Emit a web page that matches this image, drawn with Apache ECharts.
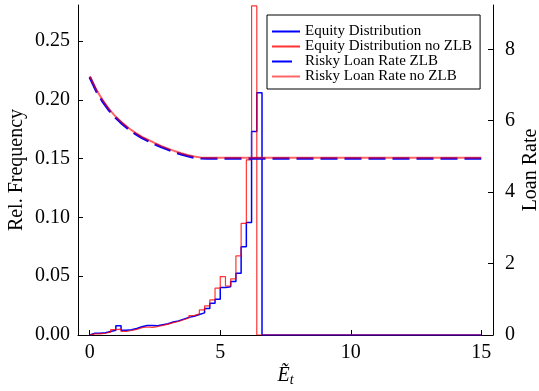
<!DOCTYPE html>
<html>
<head>
<meta charset="utf-8">
<script src="https://cdn.jsdelivr.net/npm/echarts@6/dist/echarts.min.js"></script>
<style>
  html, body { margin: 0; padding: 0; background: #ffffff; }
  #chart { width: 539px; height: 391px; }
</style>
</head>
<body>
<div id="chart"></div>
<script>
// Histogram bins: width 0.2 starting at 0, zero beyond the listed bins up to 15
const binWidth = 0.2;
const histEnd = 15;

// Relative frequency per bin, with ZLB
const equityZLB = [
  0.0015, 0.0015, 0.0020, 0.0030, 0.0040, 0.0078, 0.0040, 0.0045, 0.0055, 0.0070,
  0.0080, 0.0080, 0.0078, 0.0088, 0.0095, 0.0110, 0.0120, 0.0135, 0.0150, 0.0160,
  0.0175, 0.0188, 0.0225, 0.0270, 0.0305, 0.0405, 0.0410, 0.0455, 0.0525, 0.0750,
  0.0957, 0.1730, 0.2060
];

// Relative frequency per bin, without ZLB
const equityNoZLB = [
  0.0010, 0.0010, 0.0015, 0.0025, 0.0045, 0.0050, 0.0030, 0.0038, 0.0048, 0.0062,
  0.0068, 0.0065, 0.0072, 0.0082, 0.0092, 0.0105, 0.0115, 0.0130, 0.0145, 0.0165,
  0.0180, 0.0213, 0.0247, 0.0298, 0.0398, 0.0497, 0.0417, 0.0477, 0.0673, 0.0950,
  0.1490, 0.2800, 0.0000
];

// Risky loan rate against equity
const rateGrid = [0, 0.25, 0.5, 0.75, 1, 1.25, 1.5, 1.75, 2, 2.25, 2.5, 2.75, 3, 3.25, 3.5, 3.75, 4, 4.25, 4.5, 15];
const rateZLB   = [7.22, 6.83, 6.53, 6.28, 6.08, 5.91, 5.76, 5.63, 5.52, 5.43, 5.34, 5.26, 5.19, 5.12, 5.06, 5.01, 4.97, 4.95, 4.94, 4.94];
const rateNoZLB = [7.25, 6.87, 6.57, 6.32, 6.11, 5.94, 5.79, 5.66, 5.55, 5.46, 5.37, 5.29, 5.22, 5.15, 5.09, 5.04, 5.00, 4.97, 4.96, 4.96];

// Axis ticks
const eTicks = [0, 5, 10, 15];
const freqTicks = [0, 0.05, 0.10, 0.15, 0.20, 0.25];
const rateTicks = [0, 2, 4, 6, 8];

// Outline of a step histogram, closed down to zero and run along the baseline to the end
function stepOutline(heights) {
  const pts = [[0, 0]];
  heights.forEach((h, i) => {
    pts.push([i * binWidth, h], [(i + 1) * binWidth, h]);
  });
  pts.push([heights.length * binWidth, 0], [histEnd, 0]);
  return pts;
}

const serif = 'Liberation Serif';
const chart = echarts.init(document.getElementById('chart'), null, { renderer: 'canvas' });

const axisLineStyle = { color: '#000', width: 1 };

chart.setOption({
  animation: false,
  backgroundColor: '#ffffff',
  grid: { left: 78, right: 46, top: 5, bottom: 56, containLabel: false, outerBoundsMode: 'none' },
  legend: {
    orient: 'vertical',
    left: 267,
    top: 15,
    padding: [9, 8, 5, 4],
    itemGap: 0,
    itemWidth: 28,
    itemHeight: 14,
    backgroundColor: '#ffffff',
    borderColor: '#000',
    borderWidth: 1,
    borderRadius: 0,
    itemStyle: { opacity: 0 },
    textStyle: { fontFamily: serif, fontSize: 15, color: '#000', lineHeight: 14 },
    data: [
      'Equity Distribution',
      'Equity Distribution no ZLB',
      { name: 'Risky Loan Rate ZLB', lineStyle: { type: [20, 30] } },
      'Risky Loan Rate no ZLB'
    ]
  },
  xAxis: {
    type: 'value',
    min: -0.45,
    max: 15.45,
    name: '{e|Ẽ}{t|t}',
    nameLocation: 'middle',
    nameGap: 30,
    nameMoveOverlap: false,
    nameTextStyle: {
      rich: {
        e: { fontFamily: serif, fontStyle: 'italic', fontSize: 20, color: '#000' },
        t: { fontFamily: serif, fontStyle: 'italic', fontSize: 14, color: '#000', verticalAlign: 'bottom', padding: [8, 0, 0, 0] }
      }
    },
    axisLine: { show: true, onZero: false, lineStyle: axisLineStyle },
    axisTick: { show: true, inside: true, length: 5, lineStyle: axisLineStyle, customValues: eTicks },
    axisLabel: { fontFamily: serif, fontSize: 20, color: '#000', margin: 8, customValues: eTicks },
    splitLine: { show: false }
  },
  yAxis: [
    {
      type: 'value',
      position: 'left',
      min: 0,
      max: 0.2807,
      name: 'Rel. Frequency',
      nameLocation: 'middle',
      nameRotate: 90,
      nameGap: 51,
      nameMoveOverlap: false,
      nameTextStyle: { fontFamily: serif, fontSize: 20, color: '#000' },
      axisLine: { show: true, onZero: false, lineStyle: axisLineStyle },
      axisTick: { show: true, inside: true, length: 5, lineStyle: axisLineStyle, customValues: freqTicks },
      axisLabel: {
        fontFamily: serif, fontSize: 20, color: '#000', margin: 8,
        customValues: freqTicks,
        formatter: v => v.toFixed(2)
      },
      splitLine: { show: false }
    },
    {
      type: 'value',
      position: 'right',
      min: 0,
      max: 9.24,
      name: 'Loan Rate',
      nameLocation: 'middle',
      nameRotate: 90,
      nameGap: 28,
      nameMoveOverlap: false,
      nameTextStyle: { fontFamily: serif, fontSize: 20, color: '#000' },
      axisLine: { show: true, onZero: false, lineStyle: axisLineStyle },
      axisTick: { show: true, inside: true, length: 5, lineStyle: axisLineStyle, customValues: rateTicks },
      axisLabel: { fontFamily: serif, fontSize: 20, color: '#000', margin: 12, customValues: rateTicks },
      splitLine: { show: false }
    }
  ],
  series: [
    {
      name: 'Equity Distribution',
      type: 'line',
      yAxisIndex: 0,
      data: stepOutline(equityZLB),
      symbol: 'none',
      clip: true,
      color: '#0000ff',
      lineStyle: { color: '#0000ff', width: 1.5 },
      z: 2
    },
    {
      name: 'Equity Distribution no ZLB',
      type: 'line',
      yAxisIndex: 0,
      data: stepOutline(equityNoZLB),
      symbol: 'none',
      clip: true,
      color: '#ff0000',
      lineStyle: { color: 'rgba(255,0,0,0.8)', width: 1.2 },
      z: 3
    },
    {
      name: 'Risky Loan Rate ZLB',
      type: 'line',
      yAxisIndex: 1,
      data: rateGrid.map((x, i) => [x, rateZLB[i]]),
      symbol: 'none',
      clip: true,
      color: '#0000ff',
      lineStyle: { color: '#0000ff', width: 2.6, type: [17, 7] },
      z: 4
    },
    {
      name: 'Risky Loan Rate no ZLB',
      type: 'line',
      yAxisIndex: 1,
      data: rateGrid.map((x, i) => [x, rateNoZLB[i]]),
      symbol: 'none',
      clip: true,
      color: '#ff4d4d',
      lineStyle: { color: 'rgba(255,0,0,0.6)', width: 2 },
      z: 5
    }
  ]
});
</script>
</body>
</html>
